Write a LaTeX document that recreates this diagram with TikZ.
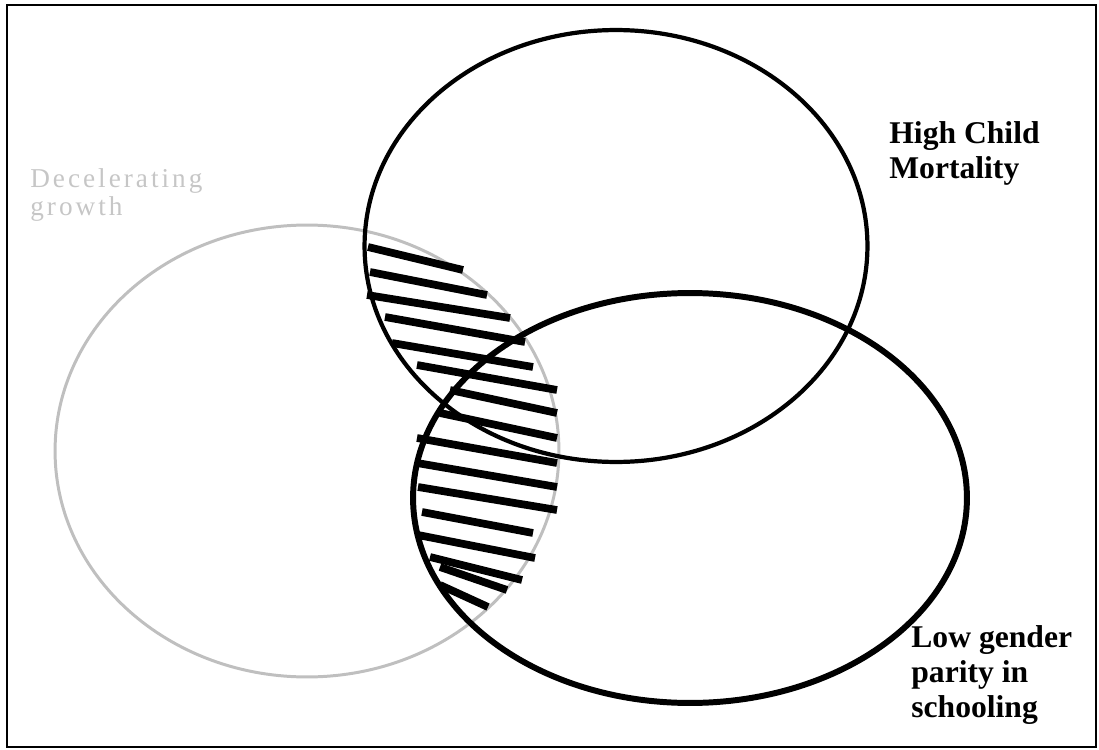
\documentclass[tikz,border=0pt]{standalone}
\usepackage{fontspec}
\setmainfont{Liberation Serif}
\usetikzlibrary{shapes.geometric}

\begin{document}
\begin{tikzpicture}[x=0.02cm,y=-0.02cm,
  ring/.style={draw,ellipse,inner sep=0pt},
  blackring/.style={ring,draw=black,line width=2.4pt},
  greyring/.style={ring,draw=gray!50,line width=1.7pt},
  hatch/.style={black,line width=4.4pt},
  lbl/.style={font=\fontsize{18}{19.7}\selectfont\bfseries,
              align=left,anchor=base west,inner sep=0pt}
]
\useasboundingbox (0,0) rectangle (1099,750);
\draw[line width=1pt] (7,5) rectangle (1096,747);

\node[greyring,minimum width=10.08cm,minimum height=9.04cm] (growth) at (307,451) {};
\node[blackring,minimum width=10.06cm,minimum height=8.64cm] (mortality) at (616,246) {};
\node[blackring,line width=3.4pt,minimum width=11.08cm,minimum height=8.2cm] (parity) at (690,498) {};

\foreach \xa/\ya/\xb/\yb in {368/247/463/270, 370/272/487/295, 367/295/510/318,
    385/317/525/342, 392/343/533/367, 417/365/557/390, 450/390/557/413,
    440/413/557/438, 417/438/557/463, 417/463/557/487, 418/487/557/510,
    422/512/533/533, 418/535/535/558, 430/557/522/580, 440/567/507/590,
    440/585/488/607}
  \draw[hatch] (\xa,\ya) -- (\xb,\yb);

\node[lbl] (hcm) at (889,178) {High Child\\Mortality};
\node[lbl] (lgp) at (911,717) {Low gender\\parity in\\schooling};
\node[lbl,font=\fontsize{15.5}{15.5}\selectfont\addfontfeatures{LetterSpace=11},
      text=gray!45] (dg) at (30,215) {Decelerating\\growth};
\end{tikzpicture}
\end{document}
